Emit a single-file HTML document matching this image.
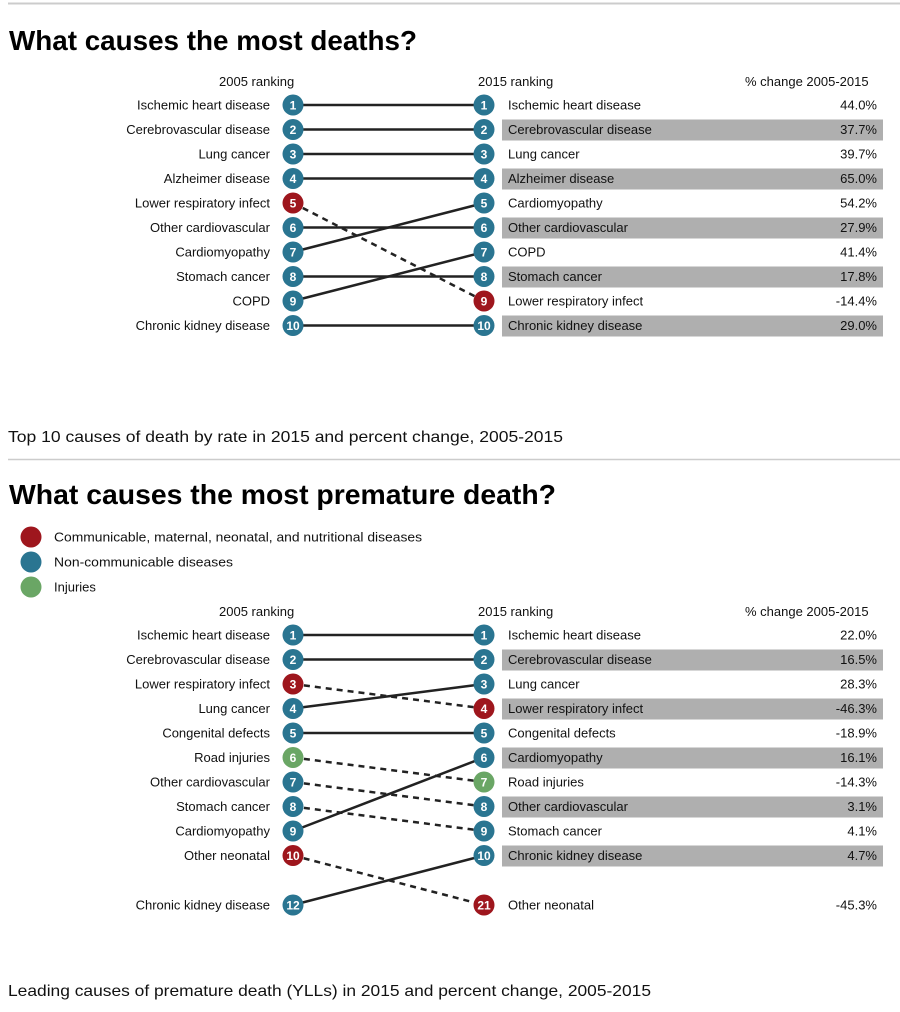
<!DOCTYPE html>
<html><head><meta charset="utf-8"><style>
html,body{margin:0;padding:0;background:#fff;}
svg{display:block;font-family:"Liberation Sans","DejaVu Sans",sans-serif;}
.l{font-size:13px;fill:#111;text-anchor:end}
.r{font-size:13px;fill:#111}
.p{font-size:13px;fill:#111;text-anchor:end}
.h{font-size:13px;fill:#111}
.n{font-size:12px;fill:#fff;text-anchor:middle;font-weight:bold}
.t{font-size:28px;font-weight:bold;fill:#000}
.c{font-size:16px;fill:#111}
.s{stroke:#222;stroke-width:2.5}
.d{stroke:#222;stroke-width:2.5;stroke-dasharray:6,5}
.b{fill:#afafaf}
.T{fill:#2a7591}.R{fill:#9e161d}.G{fill:#6aa665}
</style></head><body>
<svg width="900" height="1012" viewBox="0 0 900 1012">
<line x1="8" y1="3.5" x2="900" y2="3.5" stroke="#ccc" stroke-width="2"/>
<text class="t" x="9" y="50" textLength="408" lengthAdjust="spacingAndGlyphs">What causes the most deaths?</text>
<text class="h" x="219" y="86">2005 ranking</text>
<text class="h" x="478" y="86">2015 ranking</text>
<text class="h" x="745" y="86">% change 2005-2015</text>
<g class="b">
<rect x="502" y="119.5" width="381" height="21"/><rect x="502" y="168.5" width="381" height="21"/><rect x="502" y="217.5" width="381" height="21"/><rect x="502" y="266.5" width="381" height="21"/><rect x="502" y="315.5" width="381" height="21"/>
</g>
<line class="s" x1="293" y1="105" x2="484" y2="105"/>
<line class="s" x1="293" y1="129.5" x2="484" y2="129.5"/>
<line class="s" x1="293" y1="154" x2="484" y2="154"/>
<line class="s" x1="293" y1="178.5" x2="484" y2="178.5"/>
<line class="d" x1="293" y1="203" x2="484" y2="301"/>
<line class="s" x1="293" y1="227.5" x2="484" y2="227.5"/>
<line class="s" x1="293" y1="252" x2="484" y2="203"/>
<line class="s" x1="293" y1="276.5" x2="484" y2="276.5"/>
<line class="s" x1="293" y1="301" x2="484" y2="252"/>
<line class="s" x1="293" y1="325.5" x2="484" y2="325.5"/>
<g class="l">
<text x="270" y="109.5">Ischemic heart disease</text><text x="270" y="134">Cerebrovascular disease</text><text x="270" y="158.5">Lung cancer</text><text x="270" y="183">Alzheimer disease</text><text x="270" y="207.5">Lower respiratory infect</text><text x="270" y="232">Other cardiovascular</text><text x="270" y="256.5">Cardiomyopathy</text><text x="270" y="281">Stomach cancer</text><text x="270" y="305.5">COPD</text><text x="270" y="330">Chronic kidney disease</text>
</g>
<g>
<circle class="T" cx="293" cy="105" r="10.5"/><circle class="T" cx="293" cy="129.5" r="10.5"/><circle class="T" cx="293" cy="154" r="10.5"/><circle class="T" cx="293" cy="178.5" r="10.5"/><circle class="R" cx="293" cy="203" r="10.5"/><circle class="T" cx="293" cy="227.5" r="10.5"/><circle class="T" cx="293" cy="252" r="10.5"/><circle class="T" cx="293" cy="276.5" r="10.5"/><circle class="T" cx="293" cy="301" r="10.5"/><circle class="T" cx="293" cy="325.5" r="10.5"/>
<circle class="T" cx="484" cy="105" r="10.5"/><circle class="T" cx="484" cy="129.5" r="10.5"/><circle class="T" cx="484" cy="154" r="10.5"/><circle class="T" cx="484" cy="178.5" r="10.5"/><circle class="T" cx="484" cy="203" r="10.5"/><circle class="T" cx="484" cy="227.5" r="10.5"/><circle class="T" cx="484" cy="252" r="10.5"/><circle class="T" cx="484" cy="276.5" r="10.5"/><circle class="R" cx="484" cy="301" r="10.5"/><circle class="T" cx="484" cy="325.5" r="10.5"/>
</g>
<g class="n">
<text x="293" y="109.5">1</text><text x="293" y="134">2</text><text x="293" y="158.5">3</text><text x="293" y="183">4</text><text x="293" y="207.5">5</text><text x="293" y="232">6</text><text x="293" y="256.5">7</text><text x="293" y="281">8</text><text x="293" y="305.5">9</text><text x="293" y="330">10</text>
<text x="484" y="109.5">1</text><text x="484" y="134">2</text><text x="484" y="158.5">3</text><text x="484" y="183">4</text><text x="484" y="207.5">5</text><text x="484" y="232">6</text><text x="484" y="256.5">7</text><text x="484" y="281">8</text><text x="484" y="305.5">9</text><text x="484" y="330">10</text>
</g>
<g class="r">
<text x="508" y="109.5">Ischemic heart disease</text><text x="508" y="134">Cerebrovascular disease</text><text x="508" y="158.5">Lung cancer</text><text x="508" y="183">Alzheimer disease</text><text x="508" y="207.5">Cardiomyopathy</text><text x="508" y="232">Other cardiovascular</text><text x="508" y="256.5">COPD</text><text x="508" y="281">Stomach cancer</text><text x="508" y="305.5">Lower respiratory infect</text><text x="508" y="330">Chronic kidney disease</text>
</g>
<g class="p">
<text x="877" y="109.5">44.0%</text><text x="877" y="134">37.7%</text><text x="877" y="158.5">39.7%</text><text x="877" y="183">65.0%</text><text x="877" y="207.5">54.2%</text><text x="877" y="232">27.9%</text><text x="877" y="256.5">41.4%</text><text x="877" y="281">17.8%</text><text x="877" y="305.5">-14.4%</text><text x="877" y="330">29.0%</text>
</g>
<text class="c" x="8" y="442" textLength="555" lengthAdjust="spacingAndGlyphs">Top 10 causes of death by rate in 2015 and percent change, 2005-2015</text>
<line x1="8" y1="459.5" x2="900" y2="459.5" stroke="#ccc" stroke-width="1.5"/>
<text class="t" x="9" y="504" textLength="547" lengthAdjust="spacingAndGlyphs">What causes the most premature death?</text>
<circle class="R" cx="31" cy="537" r="10.5"/><circle class="T" cx="31" cy="562" r="10.5"/><circle class="G" cx="31" cy="587" r="10.5"/>
<text class="r" x="54" y="541.5" textLength="368" lengthAdjust="spacingAndGlyphs">Communicable, maternal, neonatal, and nutritional diseases</text>
<text class="r" x="54" y="566.5" textLength="179" lengthAdjust="spacingAndGlyphs">Non-communicable diseases</text>
<text class="r" x="54" y="591.5">Injuries</text>
<text class="h" x="219" y="616">2005 ranking</text>
<text class="h" x="478" y="616">2015 ranking</text>
<text class="h" x="745" y="616">% change 2005-2015</text>
<g class="b">
<rect x="502" y="649.5" width="381" height="21"/><rect x="502" y="698.5" width="381" height="21"/><rect x="502" y="747.5" width="381" height="21"/><rect x="502" y="796.5" width="381" height="21"/><rect x="502" y="845.5" width="381" height="21"/>
</g>
<line class="s" x1="293" y1="635" x2="484" y2="635"/>
<line class="s" x1="293" y1="659.5" x2="484" y2="659.5"/>
<line class="d" x1="293" y1="684" x2="484" y2="708.5"/>
<line class="s" x1="293" y1="708.5" x2="484" y2="684"/>
<line class="s" x1="293" y1="733" x2="484" y2="733"/>
<line class="d" x1="293" y1="757.5" x2="484" y2="782"/>
<line class="d" x1="293" y1="782" x2="484" y2="806.5"/>
<line class="d" x1="293" y1="806.5" x2="484" y2="831"/>
<line class="s" x1="293" y1="831" x2="484" y2="757.5"/>
<line class="d" x1="293" y1="855.5" x2="484" y2="905"/>
<line class="s" x1="293" y1="905" x2="484" y2="855.5"/>
<g class="l">
<text x="270" y="639.5">Ischemic heart disease</text><text x="270" y="664">Cerebrovascular disease</text><text x="270" y="688.5">Lower respiratory infect</text><text x="270" y="713">Lung cancer</text><text x="270" y="737.5">Congenital defects</text><text x="270" y="762">Road injuries</text><text x="270" y="786.5">Other cardiovascular</text><text x="270" y="811">Stomach cancer</text><text x="270" y="835.5">Cardiomyopathy</text><text x="270" y="860">Other neonatal</text><text x="270" y="909.5">Chronic kidney disease</text>
</g>
<g>
<circle class="T" cx="293" cy="635" r="10.5"/><circle class="T" cx="293" cy="659.5" r="10.5"/><circle class="R" cx="293" cy="684" r="10.5"/><circle class="T" cx="293" cy="708.5" r="10.5"/><circle class="T" cx="293" cy="733" r="10.5"/><circle class="G" cx="293" cy="757.5" r="10.5"/><circle class="T" cx="293" cy="782" r="10.5"/><circle class="T" cx="293" cy="806.5" r="10.5"/><circle class="T" cx="293" cy="831" r="10.5"/><circle class="R" cx="293" cy="855.5" r="10.5"/><circle class="T" cx="293" cy="905" r="10.5"/>
<circle class="T" cx="484" cy="635" r="10.5"/><circle class="T" cx="484" cy="659.5" r="10.5"/><circle class="T" cx="484" cy="684" r="10.5"/><circle class="R" cx="484" cy="708.5" r="10.5"/><circle class="T" cx="484" cy="733" r="10.5"/><circle class="T" cx="484" cy="757.5" r="10.5"/><circle class="G" cx="484" cy="782" r="10.5"/><circle class="T" cx="484" cy="806.5" r="10.5"/><circle class="T" cx="484" cy="831" r="10.5"/><circle class="T" cx="484" cy="855.5" r="10.5"/><circle class="R" cx="484" cy="905" r="10.5"/>
</g>
<g class="n">
<text x="293" y="639.5">1</text><text x="293" y="664">2</text><text x="293" y="688.5">3</text><text x="293" y="713">4</text><text x="293" y="737.5">5</text><text x="293" y="762">6</text><text x="293" y="786.5">7</text><text x="293" y="811">8</text><text x="293" y="835.5">9</text><text x="293" y="860">10</text><text x="293" y="909.5">12</text>
<text x="484" y="639.5">1</text><text x="484" y="664">2</text><text x="484" y="688.5">3</text><text x="484" y="713">4</text><text x="484" y="737.5">5</text><text x="484" y="762">6</text><text x="484" y="786.5">7</text><text x="484" y="811">8</text><text x="484" y="835.5">9</text><text x="484" y="860">10</text><text x="484" y="909.5">21</text>
</g>
<g class="r">
<text x="508" y="639.5">Ischemic heart disease</text><text x="508" y="664">Cerebrovascular disease</text><text x="508" y="688.5">Lung cancer</text><text x="508" y="713">Lower respiratory infect</text><text x="508" y="737.5">Congenital defects</text><text x="508" y="762">Cardiomyopathy</text><text x="508" y="786.5">Road injuries</text><text x="508" y="811">Other cardiovascular</text><text x="508" y="835.5">Stomach cancer</text><text x="508" y="860">Chronic kidney disease</text><text x="508" y="909.5">Other neonatal</text>
</g>
<g class="p">
<text x="877" y="639.5">22.0%</text><text x="877" y="664">16.5%</text><text x="877" y="688.5">28.3%</text><text x="877" y="713">-46.3%</text><text x="877" y="737.5">-18.9%</text><text x="877" y="762">16.1%</text><text x="877" y="786.5">-14.3%</text><text x="877" y="811">3.1%</text><text x="877" y="835.5">4.1%</text><text x="877" y="860">4.7%</text><text x="877" y="909.5">-45.3%</text>
</g>
<text class="c" x="8" y="996" textLength="643" lengthAdjust="spacingAndGlyphs">Leading causes of premature death (YLLs) in 2015 and percent change, 2005-2015</text>
</svg>
</body></html>
